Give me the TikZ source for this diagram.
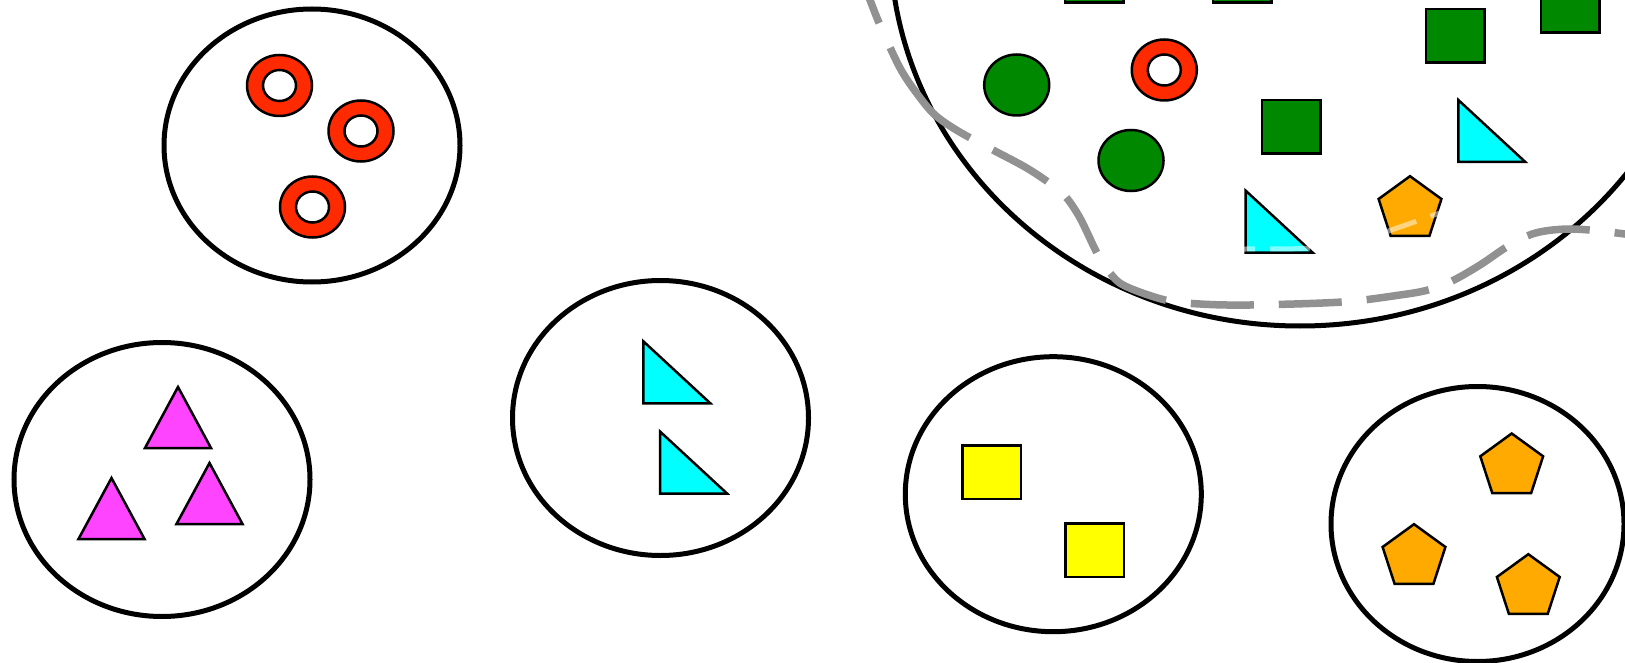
\documentclass[tikz,border=0pt]{standalone}
\usetikzlibrary{calc}
\definecolor{ringred}{RGB}{255,42,0}
\definecolor{grn}{RGB}{0,136,0}
\definecolor{cyn}{RGB}{0,255,255}
\definecolor{mag}{RGB}{255,68,255}
\definecolor{yel}{RGB}{255,255,0}
\definecolor{org}{RGB}{255,170,0}
\definecolor{dgray}{RGB}{145,145,145}
\tikzset{
  groupline/.style={draw=black, line width=5pt},
  item/.style={draw=black, line width=2.5pt, line join=miter},
  ringouter/.style={item, fill=ringred},
  ringinner/.style={item, fill=white},
  greenball/.style={item, fill=grn},
  greenbox/.style={item, fill=grn},
  yellowbox/.style={item, fill=yel},
  cyantri/.style={item, fill=cyn},
  magtri/.style={item, fill=mag},
  orangepent/.style={item, fill=org},
  borderdash/.style={draw=dgray, line width=7.5pt,
    dash pattern=on 41pt off 27pt on 123pt off 26pt
      on 63pt off 25pt on 63pt off 25pt on 63pt off 25pt on 63pt off 25pt
      on 63pt off 25pt on 63pt off 25pt on 63pt off 25pt on 63pt off 25pt
      on 63pt off 25pt on 63pt off 25pt on 63pt off 25pt on 63pt off 25pt},
  faintdash/.style={draw=white, draw opacity=0.5, line width=5pt, dash pattern=on 40pt off 15pt}
}
\newcommand\myring[2]{%
  \path[ringouter] (#1,#2) ellipse [x radius=32.5pt, y radius=30.5pt];
  \path[ringinner] (#1,#2) ellipse [x radius=16.5pt, y radius=15.5pt];}
\newcommand\myrtri[2]{%
  \path[cyantri] (#1,#2) -- ++(0,62) -- ++(67,0) -- cycle;}
\newcommand\mymtri[2]{%
  \path[magtri] (#1,#2) -- ++(-33,61) -- ++(66,0) -- cycle;}
\newcommand\mypent[2]{%
  \path[orangepent] ($(#1,#2)+(0,-33)$) -- ($(#1,#2)+(-31.4,-10.2)$) -- ($(#1,#2)+(-19.4,26.7)$)
    -- ($(#1,#2)+(19.4,26.7)$) -- ($(#1,#2)+(31.4,-10.2)$) -- cycle;}
\newcommand\mysq[3]{%
  \path[#1] (#2,#3) rectangle ++(58.5,53.5);}
\begin{document}
\begin{tikzpicture}[x=1pt, y=-1pt]
\useasboundingbox (0,0) rectangle (1625,663);
\clip (0,0) rectangle (1625,663);
\fill[white] (0,0) rectangle (1625,663);

% top-left group: rings
\path[groupline] (312,145.5) ellipse [x radius=148pt, y radius=136.5pt];
\myring{279.5}{85.5}
\myring{361}{131}
\myring{312.5}{207}

% bottom-left group: magenta triangles
\path[groupline] (162,479.5) ellipse [x radius=148pt, y radius=137pt];
\mymtri{178}{387}
\mymtri{209.5}{463}
\mymtri{111.5}{478}

% middle group: cyan triangles
\path[groupline] (660.5,418) ellipse [x radius=148pt, y radius=137.5pt];
\myrtri{643.3}{341.3}
\myrtri{660}{431.5}

% yellow group
\path[groupline] (1053.3,494.2) ellipse [x radius=148pt, y radius=137.5pt];
\mysq{yellowbox}{962.7}{445.7}
\mysq{yellowbox}{1065.5}{523.5}

% orange group
\path[groupline] (1477.5,524) ellipse [x radius=146.5pt, y radius=137.5pt];
\mypent{1511.7}{466.5}
\mypent{1414}{557.2}
\mypent{1528.3}{587.2}

% top-right big group
\path[groupline] (1300,-60) ellipse [x radius=410pt, y radius=386pt];
\mysq{greenbox}{1065}{-51}
\mysq{greenbox}{1213}{-51}
\mysq{greenbox}{1426}{9}
\mysq{greenbox}{1541}{-21}
\mysq{greenbox}{1262}{100}
\path[greenball] (1016.7,85) ellipse [x radius=32.5pt, y radius=30.5pt];
\path[greenball] (1131,160.5) ellipse [x radius=32.5pt, y radius=30.5pt];
\myring{1164.3}{70}
\myrtri{1458.3}{100}
\myrtri{1245.7}{190.7}
\mypent{1410}{209.2}

% dashed borders
\draw[borderdash] plot[smooth, tension=0.55] coordinates {
  (864,-15) (870,0) (880,25) (900,68) (918,95) (935,115) (958,131) (993,150)
  (1025,167) (1048,182) (1065,196) (1080,218) (1097,253) (1110,273) (1125,286)
  (1165,300) (1200,304) (1250,305) (1342,302) (1400,295) (1428,290) (1452,281)
  (1480,265) (1505,248) (1527,236) (1545,231) (1570,229) (1600,231) (1640,236)};
\draw[faintdash] plot[smooth, tension=0.55] coordinates {
  (1160,250) (1246,249) (1310,248) (1360,240) (1400,227) (1440,213) (1490,197)};
\end{tikzpicture}
\end{document}
